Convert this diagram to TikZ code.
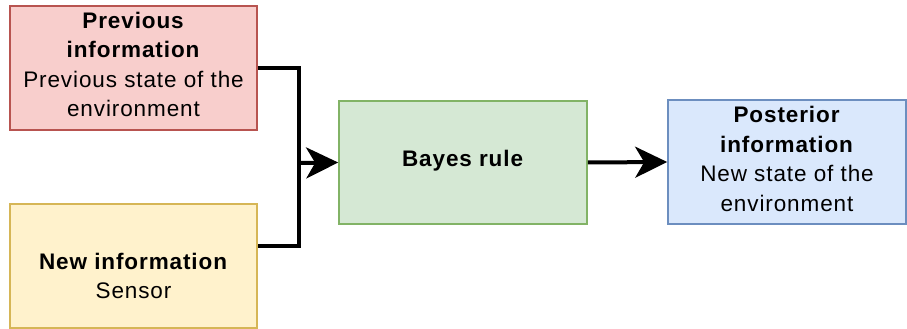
\documentclass[tikz,border=0pt]{standalone}
\usepackage{fontspec}
\setmainfont[LetterSpace=4]{Liberation Sans}
\usetikzlibrary{arrows.meta}
\definecolor{redfill}{HTML}{F8CECC}\definecolor{redline}{HTML}{B85450}
\definecolor{yelfill}{HTML}{FFF2CC}\definecolor{yelline}{HTML}{D6B656}
\definecolor{grnfill}{HTML}{D5E8D4}\definecolor{grnline}{HTML}{82B366}
\definecolor{blufill}{HTML}{DAE8FC}\definecolor{bluline}{HTML}{6C8EBF}
\tikzset{
  box/.style={draw, line width=1.6pt, inner sep=0pt},
  txt/.style={align=center, inner sep=0pt, font=\fontsize{22.5}{29.5}\selectfont},
  flow/.style={line width=4pt},
  tip/.style={-{Stealth[length=32pt,width=31pt,inset=9pt]}}
}
\begin{document}
\begin{tikzpicture}[x=1pt,y=1pt]
  \useasboundingbox (0,0) rectangle (907,329);
  \node[box, fill=redfill, draw=redline, minimum width=247pt, minimum height=124pt,
    label={[txt, yshift=3.5pt]center:{\textbf{Previous}\\\textbf{information}\\Previous state of the\\environment}}]
    (prev) at (133.5,261) {};
  \node[box, fill=yelfill, draw=yelline, minimum width=247pt, minimum height=124pt,
    label={[txt, yshift=-10pt]center:{\textbf{New information}\\Sensor}}]
    (new) at (133.5,63) {};
  \node[box, fill=grnfill, draw=grnline, minimum width=248pt, minimum height=123pt,
    label={[txt, yshift=2pt]center:{\textbf{Bayes rule}}}]
    (bayes) at (463,166.5) {};
  \node[box, fill=blufill, draw=bluline, minimum width=238pt, minimum height=124pt,
    label={[txt, yshift=3pt]center:{\textbf{Posterior}\\\textbf{information}\\New state of the\\environment}}]
    (post) at (787,167) {};
  \coordinate (join) at (299,166);
  \coordinate (newout) at ([yshift=19.5pt]new.east);
  \draw[flow] (prev.east) -| (join) |- (newout);
  \draw[flow, tip] (join) -- (bayes.west);
  \draw[flow, tip] (bayes.east) -- (post.west);
\end{tikzpicture}
\end{document}
